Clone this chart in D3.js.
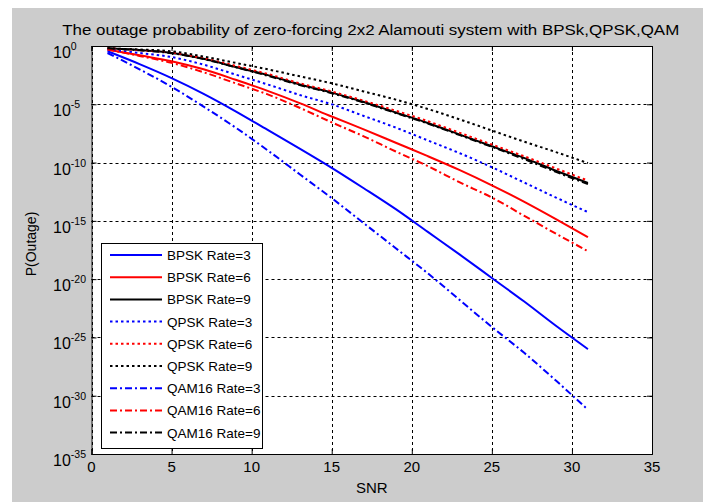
<!DOCTYPE html>
<html>
<head>
<meta charset="utf-8">
<script src="https://cdn.jsdelivr.net/npm/d3@7"></script>
<style>
  body { margin: 0; background: #fff; }
  text { font-family: "Liberation Sans", Arial, sans-serif; fill: #000; }
</style>
</head>
<body>
<div id="chart"></div>
<script>
// Set dimensions
var w = 710;
var h = 502;
var margin = {top: 46, right: 58, bottom: 48, left: 91.5};

// SNR points and log10(P outage)
var snr = [1, 3, 5, 7, 9, 11, 13, 15, 17, 19, 21, 23, 25, 27, 29, 31];
var bpsk3 = [-0.45, -1.55, -2.75, -4.1, -5.6, -7.2, -8.8, -10.45, -12.2, -14.0, -15.95, -17.9, -19.9, -21.9, -24.0, -26.0];
var bpsk6 = [-0.3, -0.8, -1.3, -2.0, -2.9, -3.85, -4.9, -6.05, -7.15, -8.3, -9.45, -10.65, -11.95, -13.35, -14.85, -16.4];
var bpsk9 = [-0.2, -0.35, -0.6, -1.1, -1.8, -2.5, -3.3, -4.0, -4.8, -5.7, -6.6, -7.6, -8.6, -9.6, -10.7, -11.75];
var qpsk3 = [-0.3, -0.6, -0.95, -1.6, -2.45, -3.3, -4.2, -5.0, -6.0, -7.0, -8.1, -9.2, -10.4, -11.7, -13.0, -14.25];
var qpsk6 = [-0.2, -0.35, -0.55, -1.05, -1.7, -2.4, -3.2, -3.9, -4.7, -5.55, -6.45, -7.45, -8.45, -9.45, -10.5, -11.55];
var qpsk9 = [-0.2, -0.3, -0.45, -0.9, -1.45, -2.0, -2.6, -3.2, -3.9, -4.6, -5.4, -6.3, -7.25, -8.2, -9.1, -10.05];
var qam3 = [-0.6, -2.0, -3.5, -5.2, -7.0, -8.95, -11.0, -13.05, -15.2, -17.35, -19.5, -21.8, -24.1, -26.3, -28.7, -31.2];
var qam6 = [-0.3, -0.85, -1.45, -2.25, -3.2, -4.15, -5.3, -6.55, -7.75, -9.05, -10.3, -11.7, -13.0, -14.55, -16.1, -17.6];
var qam9 = [-0.2, -0.37, -0.62, -1.12, -1.82, -2.55, -3.35, -4.05, -4.85, -5.75, -6.65, -7.65, -8.65, -9.7, -10.8, -11.85];

var xTicks = [0, 5, 10, 15, 20, 25, 30, 35];
var yExps = [0, -5, -10, -15, -20, -25, -30, -35];

var series = [
  {name: "BPSK Rate=3", values: bpsk3, color: "#0000ff", dash: null},
  {name: "BPSK Rate=6", values: bpsk6, color: "#ff0000", dash: null},
  {name: "BPSK Rate=9", values: bpsk9, color: "#000000", dash: null},
  {name: "QPSK Rate=3", values: qpsk3, color: "#0000ff", dash: "2.5,3"},
  {name: "QPSK Rate=6", values: qpsk6, color: "#ff0000", dash: "2.5,3"},
  {name: "QPSK Rate=9", values: qpsk9, color: "#000000", dash: "2.5,3"},
  {name: "QAM16 Rate=3", values: qam3, color: "#0000ff", dash: "7,3,2,3"},
  {name: "QAM16 Rate=6", values: qam6, color: "#ff0000", dash: "7,3,2,3"},
  {name: "QAM16 Rate=9", values: qam9, color: "#000000", dash: "7,3,2,3"}
];

var xScale = d3.scaleLinear()
  .domain([0, 35])
  .range([margin.left, w - margin.right]);

var yScale = d3.scaleLog()
  .domain([1e-35, 1])
  .range([h - margin.bottom, margin.top]);

var svg = d3.select("#chart")
  .append("svg")
  .attr("width", w)
  .attr("height", h);

// figure background
svg.append("rect")
  .attr("x", 12).attr("y", 8)
  .attr("width", 691).attr("height", h - 8)
  .attr("fill", "#cccccc");

var x0 = xScale(0), x1 = xScale(35), y0 = yScale(1e-35), y1 = yScale(1);

svg.append("rect")
  .attr("x", x0).attr("y", y1)
  .attr("width", x1 - x0).attr("height", y0 - y1)
  .attr("fill", "#fff");

// grid
var grid = svg.append("g").attr("stroke", "#000").attr("stroke-width", 1)
  .attr("stroke-dasharray", "3,3").attr("fill", "none");
xTicks.forEach(function(t) {
  grid.append("line")
    .attr("x1", Math.round(xScale(t)) + 0.5).attr("x2", Math.round(xScale(t)) + 0.5)
    .attr("y1", y1).attr("y2", y0);
});
yExps.forEach(function(e) {
  grid.append("line")
    .attr("x1", x0).attr("x2", x1)
    .attr("y1", Math.round(yScale(Math.pow(10, e))) + 0.5)
    .attr("y2", Math.round(yScale(Math.pow(10, e))) + 0.5);
});

// curves
var line = d3.line()
  .curve(d3.curveMonotoneX)
  .x(function(d) { return xScale(d[0]); })
  .y(function(d) { return yScale(Math.pow(10, d[1])); });

svg.selectAll("path.curve")
  .data(series)
  .enter()
  .append("path")
  .attr("class", "curve")
  .attr("d", function(s) { return line(snr.map(function(v, i) { return [v, s.values[i]]; })); })
  .attr("fill", "none")
  .attr("stroke", function(s) { return s.color; })
  .attr("stroke-width", 2)
  .attr("stroke-dasharray", function(s) { return s.dash; });

// axes box with inward ticks
var xAxisB = d3.axisBottom(xScale).tickValues(xTicks).tickSize(-5).tickFormat("");
var xAxisT = d3.axisTop(xScale).tickValues(xTicks).tickSize(-5).tickFormat("");
var yAxisL = d3.axisLeft(yScale).tickValues(yExps.map(function(e) { return Math.pow(10, e); })).tickSize(-5).tickFormat("");
var yAxisR = d3.axisRight(yScale).tickValues(yExps.map(function(e) { return Math.pow(10, e); })).tickSize(-5).tickFormat("");

[[xAxisB, "translate(0," + y0 + ")"], [xAxisT, "translate(0," + y1 + ")"],
 [yAxisL, "translate(" + x0 + ",0)"], [yAxisR, "translate(" + x1 + ",0)"]].forEach(function(a) {
  var g = svg.append("g").attr("transform", a[1]).call(a[0]);
  g.selectAll("path, line").attr("stroke", "#000");
});

// tick labels
svg.selectAll("text.xt")
  .data(xTicks)
  .enter()
  .append("text")
  .attr("class", "xt")
  .attr("x", function(d) { return xScale(d); })
  .attr("y", 472)
  .attr("text-anchor", "middle")
  .style("font-size", "15px")
  .text(function(d) { return d; });

var yt = svg.selectAll("text.yt")
  .data(yExps)
  .enter()
  .append("text")
  .attr("class", "yt")
  .attr("x", 53)
  .attr("y", function(d) { return yScale(Math.pow(10, d)) + 12; })
  .style("font-size", "16px");
yt.append("tspan").text("10");
yt.append("tspan")
  .attr("dy", -8)
  .style("font-size", "10.5px")
  .text(function(d) { return d; });

// labels
svg.append("text")
  .attr("x", (x0 + x1) / 2).attr("y", 493)
  .attr("text-anchor", "middle")
  .style("font-size", "15px")
  .text("SNR");

svg.append("text")
  .attr("transform", "translate(36," + 244 + ") rotate(-90)")
  .attr("text-anchor", "middle")
  .style("font-size", "14px")
  .text("P(Outage)");

svg.append("text")
  .attr("x", (x0 + x1) / 2 - 1).attr("y", 35)
  .attr("text-anchor", "middle")
  .style("font-size", "15.5px")
  .attr("textLength", 617)
  .attr("lengthAdjust", "spacingAndGlyphs")
  .text("The outage probability of zero-forcing 2x2 Alamouti system with BPSk,QPSK,QAM");

// legend
var legend = svg.append("g");
legend.append("rect")
  .attr("x", 101.5).attr("y", 243.5)
  .attr("width", 161).attr("height", 205)
  .attr("fill", "#fff").attr("stroke", "#000");

var items = legend.selectAll(".legend-item")
  .data(series)
  .enter()
  .append("g")
  .attr("class", "legend-item")
  .attr("transform", function(d, i) { return "translate(0," + (255 + i * 22.2) + ")"; });

items.append("line")
  .attr("x1", 110).attr("x2", 162)
  .attr("stroke", function(d) { return d.color; })
  .attr("stroke-width", 2)
  .attr("stroke-dasharray", function(d) { return d.dash; });

items.append("text")
  .attr("x", 167).attr("y", 5)
  .style("font-size", "13.5px")
  .text(function(d) { return d.name; });
</script>
</body>
</html>
